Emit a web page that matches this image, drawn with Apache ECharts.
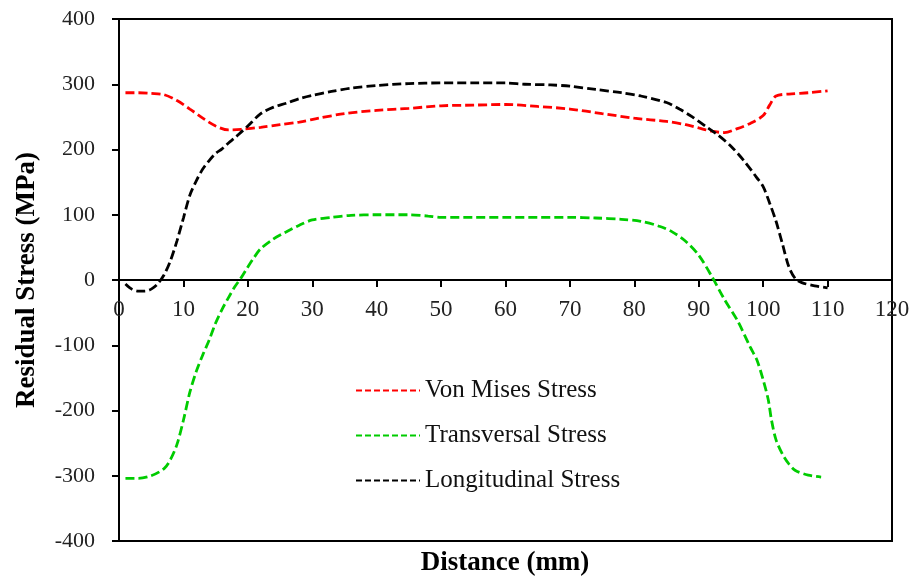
<!DOCTYPE html>
<html>
<head>
<meta charset="utf-8">
<script src="https://cdn.jsdelivr.net/npm/echarts@6/dist/echarts.min.js"></script>
<style>
  html, body { margin: 0; padding: 0; background: #fff; }
  #chart { width: 915px; height: 579px; }
</style>
</head>
<body>
<div id="chart"></div>
<script>
// Residual stress profiles across the weld, [distance (mm), stress (MPa)]
const vonMises = [
  [1, 287], [3, 287], [5, 286], [7, 284], [9, 275], [11, 262], [13, 248], [15, 236],
  [17, 230], [19, 231], [22, 234], [25, 238], [28, 242], [31, 248], [35, 255], [40, 260],
  [45, 263], [50, 267], [55, 268], [60, 269], [65, 266], [70, 262], [75, 255], [80, 248],
  [85, 243], [88, 238], [90, 233], [92, 228], [94, 226], [96, 232], [98, 240], [100, 252],
  [101, 268], [102, 282], [104, 285], [107, 287], [110, 290]
];
const transversal = [
  [1, -304], [3, -304], [5, -300], [7, -289], [8, -275], [9, -252], [10, -215], [11, -172],
  [12, -140], [13, -115], [14, -92], [15, -66], [16, -45], [17, -27], [18, -10], [19, 4],
  [20, 20], [21, 35], [22, 48], [24, 63], [26, 74], [28, 84], [30, 92], [33, 96], [36, 99],
  [40, 100], [45, 100], [48, 98], [50, 96], [55, 96], [60, 96], [65, 96], [70, 96], [74, 95],
  [78, 93], [81, 90], [84, 82], [86, 73], [88, 59], [90, 38], [92, 6], [94, -30], [96, -62],
  [98, -103], [99, -122], [100, -153], [100.8, -184], [101.3, -215], [102, -245], [103, -267],
  [104, -282], [105, -292], [107, -299], [109, -302]
];
const longitudinal = [
  [1, -6], [2, -14], [3, -17], [4, -17], [5, -14], [6, -6], [7, 8], [8, 30], [9, 60],
  [10, 95], [11, 130], [12, 152], [13, 170], [14, 183], [15, 194], [16, 201], [17, 210],
  [18, 218], [19, 227], [20, 236], [22, 255], [24, 265], [26, 271], [28, 278], [30, 283],
  [33, 289], [36, 294], [40, 298], [45, 301], [50, 302], [55, 302], [60, 302], [63, 300],
  [67, 299], [70, 297], [74, 292], [78, 287], [81, 282], [85, 272], [87, 262], [89, 250],
  [91, 236], [93, 222], [95, 205], [97, 183], [99, 157], [100, 143], [101, 118], [102, 90],
  [103, 55], [104, 20], [105, 2], [106, -4], [108, -9], [110, -12]
];

const seriesNames = ['Von Mises Stress', 'Transversal Stress', 'Longitudinal Stress'];
const seriesColors = ['#ff0000', '#00cc00', '#000000'];
const seriesData = [vonMises, transversal, longitudinal];

const xTitle = 'Distance (mm)';
const yTitle = 'Residual Stress (MPa)';

const serif = '"Liberation Serif", "Times New Roman", serif';

const gridHeight = 522;

const chart = echarts.init(document.getElementById('chart'), null, { renderer: 'canvas' });

chart.setOption({
  animation: false,
  backgroundColor: '#ffffff',
  grid: {
    left: 119, top: 19, width: 773, height: gridHeight,
    show: true, borderColor: '#000', borderWidth: 2, backgroundColor: 'transparent'
  },
  xAxis: {
    type: 'value', min: 0, max: 120, interval: 10,
    position: 'bottom',
    // the distance axis runs along the zero-stress line, halfway up the plot
    offset: -gridHeight / 2,
    axisLine: { show: true, onZero: false, lineStyle: { color: '#000', width: 2 } },
    axisTick: { show: true, inside: false, length: 7, lineStyle: { color: '#000', width: 2 } },
    axisLabel: { color: '#222', fontFamily: serif, fontSize: 23, margin: 18 },
    splitLine: { show: false }
  },
  yAxis: {
    type: 'value', min: -400, max: 400, interval: 100,
    axisLine: { show: true, onZero: false, lineStyle: { color: '#000', width: 2 } },
    axisTick: { show: true, inside: false, length: 7, lineStyle: { color: '#000', width: 2 } },
    axisLabel: { color: '#222', fontFamily: serif, fontSize: 22, margin: 24 },
    splitLine: { show: false },
    name: yTitle, nameLocation: 'middle', nameRotate: 90, nameGap: 78,
    nameTextStyle: { color: '#000', fontFamily: serif, fontSize: 27, fontWeight: 'bold' }
  },
  legend: {
    orient: 'vertical', left: 350, top: 373,
    itemWidth: 64, itemHeight: 14, itemGap: 20,
    data: seriesNames,
    textStyle: { color: '#111', fontFamily: serif, fontSize: 25, lineHeight: 24 },
    itemStyle: { opacity: 0 },
    lineStyle: { width: 2, type: [6, 3] }
  },
  graphic: [{
    type: 'text',
    x: 505, y: 563,
    style: {
      text: xTitle, textAlign: 'center', textVerticalAlign: 'middle',
      fill: '#000', font: 'bold 27px ' + serif
    }
  }],
  series: seriesData.map((d, i) => ({
    name: seriesNames[i],
    type: 'line',
    data: d,
    smooth: 0.3,
    showSymbol: false,
    symbol: 'none',
    color: seriesColors[i],
    lineStyle: { color: seriesColors[i], width: 2.8, type: [9, 4] }
  }))
});
</script>
</body>
</html>
